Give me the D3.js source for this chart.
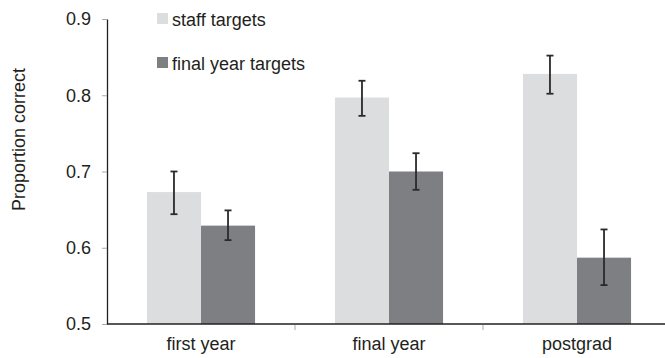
<!DOCTYPE html>
<html>
<head>
<meta charset="utf-8">
<script src="https://cdn.jsdelivr.net/npm/d3@7/dist/d3.min.js"></script>
<style>
  html, body { margin: 0; padding: 0; background: #fff; }
  svg { display: block; font-family: "Liberation Sans", Arial, Helvetica, sans-serif; }
</style>
</head>
<body>
<svg id="chart" width="665" height="358"></svg>
<script>
// Proportion correct by participant group and target type
const categories = ["first year", "final year", "postgrad"];
const seriesNames = ["staff targets", "final year targets"];
const staffValues = [0.673, 0.797, 0.828];
const staffErrLow = [0.644, 0.773, 0.802];
const staffErrHigh = [0.700, 0.819, 0.852];
const finalValues = [0.629, 0.700, 0.587];
const finalErrLow = [0.610, 0.676, 0.551];
const finalErrHigh = [0.649, 0.724, 0.624];
const yTicks = [0.5, 0.6, 0.7, 0.8, 0.9];

const colors = { "staff targets": "#dcdddf", "final year targets": "#7e7f83" };
const ink = "#231f20";

const rows = [];
categories.forEach((c, i) => {
  rows.push({ cat: c, series: seriesNames[0], value: staffValues[i], lo: staffErrLow[i], hi: staffErrHigh[i] });
  rows.push({ cat: c, series: seriesNames[1], value: finalValues[i], lo: finalErrLow[i], hi: finalErrHigh[i] });
});

const svg = d3.select("#chart");
const plotLeft = 107, plotRight = 671, plotTop = 19, plotBottom = 324;

const y = d3.scaleLinear().domain([0.5, 0.9]).range([plotBottom, plotTop]);
const x0 = d3.scaleBand().domain(categories).range([plotLeft, plotRight]).padding(0);
const groupW = x0.bandwidth() * 0.575;
const x1 = d3.scaleBand().domain(seriesNames)
  .range([(x0.bandwidth() - groupW) / 2, (x0.bandwidth() + groupW) / 2]).padding(0);

// bars
svg.append("g").selectAll("rect").data(rows).join("rect")
  .attr("x", d => x0(d.cat) + x1(d.series))
  .attr("y", d => y(d.value))
  .attr("width", x1.bandwidth())
  .attr("height", d => y(0.5) - y(d.value))
  .attr("fill", d => colors[d.series]);

// error bars
const eb = svg.append("g").attr("stroke", "#2a2a2a").attr("stroke-width", 1.8);
rows.forEach(d => {
  const cx = x0(d.cat) + x1(d.series) + x1.bandwidth() / 2;
  eb.append("line").attr("x1", cx).attr("x2", cx).attr("y1", y(d.hi)).attr("y2", y(d.lo));
  eb.append("line").attr("x1", cx - 3.5).attr("x2", cx + 3.5).attr("y1", y(d.hi)).attr("y2", y(d.hi));
  eb.append("line").attr("x1", cx - 3.5).attr("x2", cx + 3.5).attr("y1", y(d.lo)).attr("y2", y(d.lo));
});

// y axis
const yAxis = svg.append("g").attr("transform", `translate(${plotLeft},0)`)
  .call(d3.axisLeft(y).tickValues(yTicks).tickFormat(d3.format(".1f")).tickSize(5).tickSizeOuter(0).tickPadding(11));
yAxis.select(".domain").attr("stroke", ink).attr("stroke-width", 1.3);
yAxis.selectAll(".tick line").attr("stroke", "#aaa");
yAxis.selectAll(".tick text").attr("font-size", 18).attr("fill", ink)
  .attr("font-family", "Liberation Sans, Arial, sans-serif");

// x axis: baseline, group separators and category labels
const xAxis = svg.append("g").attr("transform", `translate(0,${plotBottom})`);
xAxis.append("line").attr("x1", plotLeft).attr("x2", plotRight).attr("stroke", ink).attr("stroke-width", 1.3);
categories.slice(1).forEach(c => {
  xAxis.append("line").attr("x1", x0(c)).attr("x2", x0(c)).attr("y1", 1).attr("y2", 6)
    .attr("stroke", "#aaa").attr("stroke-width", 1);
});
xAxis.selectAll("text.cat").data(categories).join("text")
  .attr("class", "cat")
  .attr("x", d => x0(d) + x0.bandwidth() / 2)
  .attr("y", 26)
  .attr("text-anchor", "middle")
  .attr("font-size", 18).attr("fill", ink)
  .text(d => d);

// y axis title
svg.append("text")
  .attr("transform", `translate(25,${(plotTop + plotBottom) / 2 - 32}) rotate(-90)`)
  .attr("text-anchor", "middle")
  .attr("font-size", 18).attr("fill", ink)
  .text("Proportion correct");

// legend
const legend = svg.append("g").attr("transform", "translate(157,13)");
seriesNames.forEach((s, i) => {
  const g = legend.append("g").attr("transform", `translate(0,${i * 44})`);
  g.append("rect").attr("width", 11).attr("height", 11).attr("fill", colors[s]);
  g.append("text").attr("x", 15).attr("y", 12.5).attr("font-size", 18).attr("fill", ink).text(s);
});
</script>
</body>
</html>
